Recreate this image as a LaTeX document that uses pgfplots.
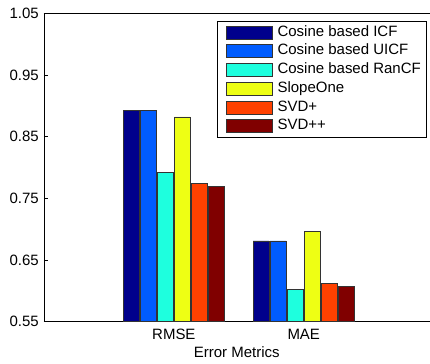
\documentclass[border=0pt]{standalone}
\usepackage{pgfplots}
\pgfplotsset{compat=1.18}
\usepackage{fontspec}
\setmainfont{Liberation Sans}
\definecolor{cA}{RGB}{0,0,140}
\definecolor{cB}{RGB}{0,92,255}
\definecolor{cC}{RGB}{30,255,222}
\definecolor{cD}{RGB}{238,255,20}
\definecolor{cE}{RGB}{255,65,0}
\definecolor{cF}{RGB}{128,0,0}
\begin{document}
\fontsize{15}{18}\selectfont
\begin{tikzpicture}
\begin{axis}[
  width=386pt, height=308.7pt, scale only axis,
  xmin=0, xmax=2.969, ymin=0.55, ymax=1.05,
  axis x line*=bottom, axis y line*=left,
  ybar, bar width=0.123,
  xtick={1,2}, xticklabels={RMSE,MAE},
  ytick={0.55,0.65,0.75,0.85,0.95,1.05},
  yticklabel style={/pgf/number format/.cd, fixed, fixed zerofill, precision=2},
  /pgf/number format/assume math mode=true,
  tick label style={font=\fontsize{15}{18}\selectfont},
  xticklabel style={yshift=-2.3pt},
  label style={font=\fontsize{15}{18}\selectfont},
  xlabel={Error Metrics},
  xlabel style={yshift=3pt},
  tick align=inside, xtick pos=both, ytick pos=left, major tick length=4pt,
  axis line style={line width=0.8pt, -},
  tick style={line width=0.6pt, black},
  clip=false,
  legend image code/.code={\path (0pt,0pt); \draw[#1, line width=0.6pt] (3.4pt,-6.5pt) rectangle (50.1pt,6.5pt);},
  legend cell align=left,
  legend style={at={(0.992,0.976)}, anchor=north east, draw=black, line width=0.8pt,
    inner xsep=5.3pt, inner ysep=4.5pt,
    font=\fontsize{15}{18}\selectfont, row sep=5.17pt, column sep=4.6pt,
    nodes={inner sep=0pt, text height=10.5pt, text depth=3pt}},
]
\addplot[fill=cA, draw=black!80, line width=0.6pt, bar shift=-0.329] coordinates {(1,0.892) (2,0.681)};
\addplot[fill=cB, draw=black!80, line width=0.6pt, bar shift=-0.197] coordinates {(1,0.892) (2,0.681)};
\addplot[fill=cC, draw=black!80, line width=0.6pt, bar shift=-0.066] coordinates {(1,0.792) (2,0.602)};
\addplot[fill=cD, draw=black!80, line width=0.6pt, bar shift=0.066] coordinates {(1,0.882) (2,0.697)};
\addplot[fill=cE, draw=black!80, line width=0.6pt, bar shift=0.197] coordinates {(1,0.774) (2,0.612)};
\addplot[fill=cF, draw=black!80, line width=0.6pt, bar shift=0.329] coordinates {(1,0.769) (2,0.607)};
\legend{Cosine based ICF, Cosine based UICF, Cosine based RanCF, SlopeOne, SVD+, SVD++}
\draw[line width=0.8pt] (rel axis cs:0,1) -- (rel axis cs:1,1);
\end{axis}
\path (-44pt,-41pt) (386pt,322pt);
\end{tikzpicture}
\end{document}
